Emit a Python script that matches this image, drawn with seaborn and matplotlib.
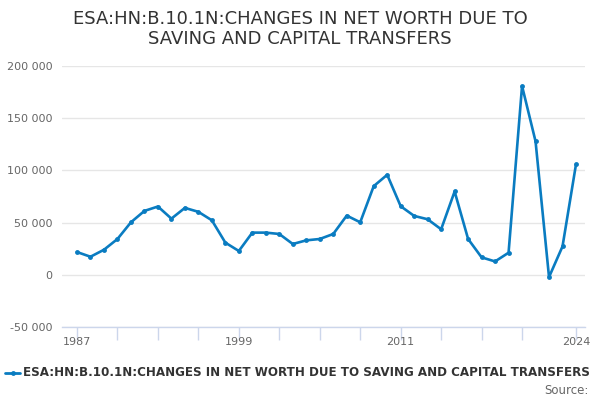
import matplotlib
matplotlib.use("Agg")
import matplotlib.pyplot as plt
import pandas as pd
import seaborn as sb
from matplotlib.ticker import FuncFormatter, FixedLocator

years = list(range(1987, 2025))
values = [21800, 17300, 24000, 34300, 50300, 61200, 65400, 53800, 64100, 60300,
          52200, 30800, 22800, 40400, 40400, 39100, 29500, 33000, 34300, 39100,
          56700, 50300, 84900, 95800, 65700, 56400, 53200, 43600, 79800, 34300,
          16700, 12800, 21150, 180800, 127900, -2200, 27200, 105800]
series_name = "ESA:HN:B.10.1N:CHANGES IN NET WORTH DUE TO SAVING AND CAPITAL TRANSFERS"
title = "ESA:HN:B.10.1N:CHANGES IN NET WORTH DUE TO\nSAVING AND CAPITAL TRANSFERS"
y_ticks = [-50000, 0, 50000, 100000, 150000, 200000]
x_labels = [1987, 1999, 2011, 2024]
x_minor = list(range(1987, 2021, 3)) + [2024]

df = pd.DataFrame({"year": years, "value": values})

sb.set_style("white")
plt.rcParams['font.family'] = ['DejaVu Sans']

fig = plt.figure(figsize=(6, 4), dpi=100)
ax = fig.add_axes([62 / 600, 1 - 327 / 400, 523 / 600, 261 / 400])

line_color = "#0a7cc1"
sb.lineplot(data=df, x="year", y="value", ax=ax, color=line_color, linewidth=1.9,
            marker="o", markersize=3.5, markeredgewidth=0)

ax.set_xlim(1987 - 15 / 13.486, 2024 + 9 / 13.486)
ax.set_ylim(-50000, 200000)
ax.set_yticks(y_ticks)
ax.yaxis.set_major_formatter(FuncFormatter(lambda v, p: f"{int(v):,}".replace(",", " ")))
ax.grid(axis="y", color="#e6e6e6", linewidth=1)
ax.set_axisbelow(True)

ax.xaxis.set_major_locator(FixedLocator(x_labels))
ax.xaxis.set_minor_locator(FixedLocator(x_minor))
ax.tick_params(axis="x", which="both", bottom=True, length=9, color="#ccd6eb", width=1,
               direction="out")
ax.tick_params(axis="x", which="major", labelsize=8, labelcolor="#666666", pad=-2)
ax.tick_params(axis="y", left=False, length=0, labelsize=8, labelcolor="#666666", pad=7)

for s in ["top", "right", "left"]:
    ax.spines[s].set_visible(False)
ax.spines["bottom"].set_color("#ccd6eb")
ax.spines["bottom"].set_linewidth(1)
ax.set_xlabel("")
ax.set_ylabel("")

fig.text(0.5, 1 - 29 / 400, title, ha="center", va="center", fontsize=13,
         color="#333333", linespacing=1.2)

fig.lines.append(plt.Line2D([5 / 600, 20 / 600], [1 - 373 / 400] * 2, transform=fig.transFigure,
                            color=line_color, linewidth=2))
fig.lines.append(plt.Line2D([12.5 / 600], [1 - 373 / 400], transform=fig.transFigure,
                            color=line_color, marker="o", markersize=3.5, markeredgewidth=0))
fig.text(23 / 600, 1 - 373 / 400, series_name, ha="left", va="center", fontsize=8.6,
         fontweight="bold", color="#333333")
fig.text(589 / 600, 1 - 391 / 400, "Source:", ha="right", va="center", fontsize=8.5,
         color="#666666")

fig.savefig("out.png", dpi=100)
